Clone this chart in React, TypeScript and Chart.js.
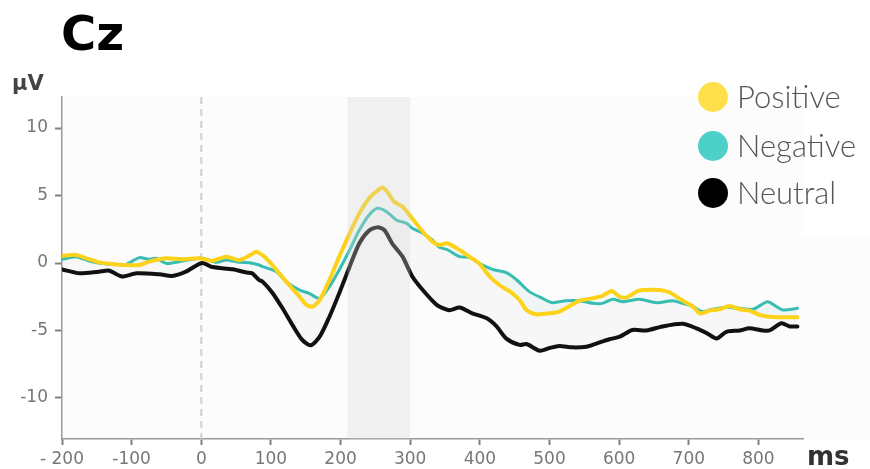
import React, { useEffect, useRef } from "react";
import { Chart, registerables } from "chart.js";

Chart.register(...registerables);

// ---- data ----
const positiveMs = [-200, -180, -165, -147, -128, -108, -89, -75, -50, -27, -3, 16, 36, 55, 73, 79, 93, 108, 122, 137, 151, 160, 170, 184, 198, 213, 227, 241, 253, 260, 267, 277, 289, 303, 318, 332, 342, 353, 371, 385, 399, 414, 428, 443, 457, 467, 481, 500, 514, 529, 543, 562, 576, 589, 601, 611, 625, 634, 658, 672, 691, 706, 716, 730, 744, 759, 773, 787, 802, 816, 835, 856];
const positiveUv = [0.52, 0.6, 0.35, 0.05, -0.07, -0.15, -0.15, 0.1, 0.35, 0.27, 0.35, 0.17, 0.47, 0.22, 0.67, 0.84, 0.35, -0.52, -1.38, -2.25, -3.1, -3.23, -2.74, -1.26, 0.47, 2.2, 3.68, 4.8, 5.36, 5.6, 5.28, 4.54, 4.17, 3.3, 2.32, 1.58, 1.33, 1.46, 0.96, 0.47, -0.03, -1.0, -1.63, -2.1, -2.74, -3.48, -3.8, -3.73, -3.6, -3.19, -2.79, -2.62, -2.44, -2.07, -2.5, -2.54, -2.12, -2.0, -2.0, -2.17, -2.79, -3.23, -3.73, -3.53, -3.43, -3.19, -3.43, -3.53, -3.85, -3.98, -4.02, -4.02];

const negativeMs = [-200, -180, -161, -142, -122, -108, -89, -75, -65, -50, -32, -13, 1, 22, 36, 55, 69, 83, 88, 108, 122, 141, 155, 170, 184, 198, 213, 227, 241, 253, 266, 280, 295, 303, 318, 332, 342, 353, 371, 385, 399, 418, 438, 453, 471, 490, 504, 524, 543, 562, 576, 591, 605, 629, 654, 677, 691, 706, 720, 734, 754, 773, 792, 813, 826, 835, 856];
const negativeUv = [0.27, 0.47, 0.15, -0.03, -0.1, -0.1, 0.4, 0.27, 0.35, -0.03, 0.1, 0.27, 0.35, 0.05, 0.22, 0.05, 0.02, -0.15, -0.27, -0.64, -1.38, -2.0, -2.25, -2.62, -1.75, -0.52, 0.96, 2.44, 3.56, 4.05, 3.8, 3.19, 2.94, 2.57, 2.2, 1.7, 1.16, 1.0, 0.47, 0.42, -0.03, -0.47, -0.72, -1.26, -2.12, -2.62, -2.94, -2.79, -2.79, -2.99, -2.99, -2.69, -2.87, -2.69, -2.94, -2.79, -2.99, -3.23, -3.6, -3.43, -3.28, -3.36, -3.43, -2.87, -3.23, -3.48, -3.36];

const neutralMs = [-200, -175, -147, -132, -114, -93, -60, -42, -22, 1, 16, 45, 65, 73, 83, 88, 102, 116, 131, 145, 157, 170, 184, 198, 213, 227, 241, 253, 263, 274, 289, 303, 318, 338, 356, 371, 389, 410, 424, 438, 457, 467, 486, 500, 514, 533, 553, 568, 586, 601, 619, 639, 662, 691, 711, 726, 740, 754, 773, 787, 806, 816, 833, 845, 856];
const neutralUv = [-0.47, -0.76, -0.64, -0.57, -1.0, -0.76, -0.84, -0.96, -0.64, 0.0, -0.3, -0.47, -0.7, -0.76, -1.26, -1.38, -2.2, -3.3, -4.6, -5.7, -6.1, -5.46, -3.98, -2.25, -0.27, 1.46, 2.4, 2.64, 2.44, 1.46, 0.47, -1.0, -2.0, -3.1, -3.5, -3.3, -3.73, -4.1, -4.7, -5.6, -6.07, -6.0, -6.5, -6.3, -6.15, -6.25, -6.2, -5.95, -5.65, -5.46, -4.96, -5.0, -4.7, -4.5, -4.84, -5.2, -5.6, -5.1, -5.0, -4.84, -5.0, -5.0, -4.47, -4.7, -4.7];

const seriesNames = ["Positive", "Negative", "Neutral"];
const xTicks = [-200, -100, 0, 100, 200, 300, 400, 500, 600, 700, 800];
const xTickLabels = ["- 200", "-100", "0", "100", "200", "300", "400", "500", "600", "700", "800"];
const yTicks = [10, 5, 0, -5, -10];
const yTickLabels = ["10", "5", "0", "-5", "-10"];
const windowStart = 210;
const windowEnd = 300;

const lineColors = ["#FDD21A", "#38BDB2", "#111111"];
const legendColors = ["#FFE04B", "#4DD0C8", "#000000"];

const toPoints = (xs: number[], ys: number[]) => xs.map((x, i) => ({ x, y: ys[i] }));

const decor = {
  id: "decor",
  beforeDraw(chart: any) {
    const { ctx, chartArea: a } = chart;
    ctx.save();
    ctx.fillStyle = "#ffffff";
    ctx.fillRect(0, 0, chart.width, chart.height);
    ctx.fillStyle = "#fcfcfc";
    ctx.fillRect(a.left, a.top, a.right - a.left, a.bottom - a.top);
    ctx.fillRect(a.right, 235, chart.width - a.right, a.bottom - 235);
    ctx.restore();
  },
  beforeDatasetsDraw(chart: any) {
    const { ctx, chartArea: a, scales } = chart;
    const x0 = scales.x.getPixelForValue(0);
    ctx.save();
    ctx.strokeStyle = "#cfcfcf";
    ctx.lineWidth = 2;
    ctx.setLineDash([7, 5]);
    ctx.beginPath();
    ctx.moveTo(x0, a.top);
    ctx.lineTo(x0, a.bottom);
    ctx.stroke();
    ctx.restore();
  },
  afterDatasetsDraw(chart: any) {
    const { ctx, chartArea: a, scales } = chart;
    const xs = scales.x.getPixelForValue(windowStart);
    const xe = scales.x.getPixelForValue(windowEnd);
    ctx.save();
    ctx.fillStyle = "rgba(212,212,212,0.3)";
    ctx.fillRect(xs, a.top, xe - xs, a.bottom - a.top);
    ctx.restore();
  },
  afterDraw(chart: any) {
    const { ctx } = chart;
    ctx.save();
    ctx.textAlign = "left";
    ctx.textBaseline = "alphabetic";
    ctx.fillStyle = "#000";
    ctx.font = "bold 48px 'DejaVu Sans'";
    ctx.fillText("Cz", 61, 50);
    ctx.fillStyle = "#444";
    ctx.font = "bold 21px 'DejaVu Sans'";
    ctx.fillText("µV", 12, 90);
    ctx.fillStyle = "#333";
    ctx.font = "bold 26px 'DejaVu Sans'";
    ctx.fillText("ms", 807, 465);
    const cy = [97, 146, 193];
    seriesNames.forEach((name, i) => {
      ctx.fillStyle = legendColors[i];
      ctx.beginPath();
      ctx.arc(713, cy[i], 15, 0, Math.PI * 2);
      ctx.fill();
      ctx.fillStyle = "#555";
      ctx.font = "300 31px Lato";
      ctx.fillText(name, 737, cy[i] + 11);
    });
    ctx.restore();
  },
};

export default function App() {
  const ref = useRef<HTMLCanvasElement>(null);
  useEffect(() => {
    document.body.style.margin = "0";
    const chart = new Chart(ref.current!, {
      type: "line",
      data: {
        datasets: [
          {
            label: seriesNames[0],
            data: toPoints(positiveMs, positiveUv),
            borderColor: lineColors[0],
            borderWidth: 4,
            fill: false,
          },
          {
            label: seriesNames[1],
            data: toPoints(negativeMs, negativeUv),
            borderColor: lineColors[1],
            borderWidth: 3,
            fill: { target: 0 },
            backgroundColor: "rgba(60,190,170,0.04)",
          },
          {
            label: seriesNames[2],
            data: toPoints(neutralMs, neutralUv),
            borderColor: lineColors[2],
            borderWidth: 4,
            fill: { target: 1 },
            backgroundColor: "rgba(0,0,0,0.02)",
          },
        ] as any,
      },
      plugins: [decor],
      options: {
        animation: false,
        responsive: false,
        devicePixelRatio: 1,
        parsing: false as any,
        elements: {
          point: { radius: 0 },
          line: { tension: 0.25, borderJoinStyle: "round", borderCapStyle: "round" },
        },
        layout: { padding: { top: 97, right: 67, left: 0, bottom: 0 } },
        plugins: {
          legend: { display: false },
          tooltip: { enabled: false },
          title: { display: false },
        },
        scales: {
          x: {
            type: "linear",
            min: -200,
            max: 864,
            afterFit: (s: any) => {
              s.height = 30;
            },
            afterBuildTicks: (s: any) => {
              s.ticks = xTicks.map((v) => ({ value: v }));
            },
            ticks: {
              callback: (v: any) => xTickLabels[xTicks.indexOf(Number(v))] ?? "",
              color: "#777",
              font: { family: "'DejaVu Sans'", size: 17 },
              padding: 4,
              maxRotation: 0,
              autoSkip: false,
            },
            grid: { drawOnChartArea: false, drawTicks: true, tickLength: 6, tickWidth: 2, tickColor: "#808080" },
            border: { display: true, color: "#9a9a9a", width: 1.5 },
          },
          y: {
            type: "linear",
            min: -13.04,
            max: 12.3,
            afterFit: (s: any) => {
              s.width = 62;
            },
            afterBuildTicks: (s: any) => {
              s.ticks = yTicks.map((v) => ({ value: v }));
            },
            ticks: {
              callback: (v: any) => yTickLabels[yTicks.indexOf(Number(v))] ?? "",
              color: "#777",
              font: { family: "'DejaVu Sans'", size: 17 },
              padding: 7,
              autoSkip: false,
            },
            grid: { drawOnChartArea: false, drawTicks: true, tickLength: 7, tickWidth: 2, tickColor: "#808080" },
            border: { display: true, color: "#9a9a9a", width: 1.5 },
          },
        },
      } as any,
    });
    return () => chart.destroy();
  }, []);
  return (
    <div style={{ position: "fixed", left: 0, top: 0, width: 870, height: 469 }}>
      <canvas ref={ref} width={870} height={469} style={{ width: 870, height: 469, display: "block" }} />
    </div>
  );
}
